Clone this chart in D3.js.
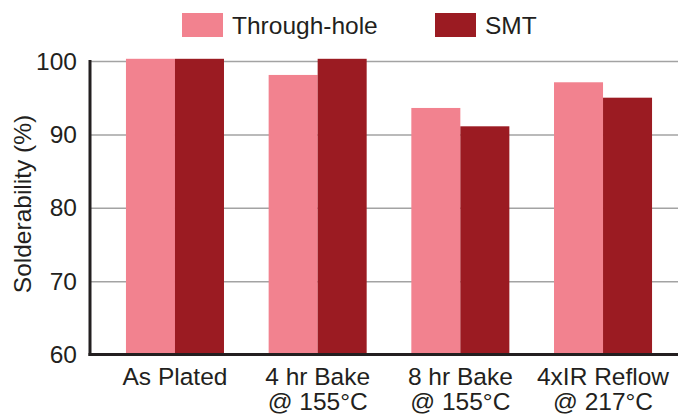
<!DOCTYPE html>
<html>
<head>
<meta charset="utf-8">
<script src="https://cdn.jsdelivr.net/npm/d3@7"></script>
<style>
  html, body { margin: 0; padding: 0; background: #fff; }
  svg { display: block; }
  text { font-family: "Liberation Sans", Arial, Helvetica, sans-serif; fill: #231f20; }
</style>
</head>
<body>
<svg id="chart" width="678" height="414"></svg>
<script>
const categories = ["As Plated", "4 hr Bake\n@ 155°C", "8 hr Bake\n@ 155°C", "4xIR Reflow\n@ 217°C"];
const seriesNames = ["Through-hole", "SMT"];
const throughHole = [100.3, 98.1, 93.6, 97.1];
const smt = [100.3, 100.3, 91.1, 95.0];
const yTicks = [60, 70, 80, 90, 100];
const yLabel = "Solderability (%)";

const colors = { "Through-hole": "#f2828f", "SMT": "#9b1b22" };
const seriesValues = { "Through-hole": throughHole, "SMT": smt };

const svg = d3.select("#chart");
const fs = "24.5px";

const y = d3.scaleLinear().domain([60, 100]).range([354.5, 61]);
const x = d3.scaleBand().domain(categories).range([90, 688]).paddingInner(0.313).paddingOuter(0.252);
const xs = d3.scaleBand().domain(seriesNames).range([0, x.bandwidth()]).padding(0);

// gridlines
const grid = svg.append("g").attr("transform", "translate(90,0)")
  .call(d3.axisLeft(y).tickValues(yTicks).tickSize(-588).tickFormat(""));
grid.select(".domain").remove();
grid.selectAll(".tick line").attr("stroke", "#a3a3a3").attr("stroke-width", 1.5);

// bars
const rows = categories.map((c, i) => ({ cat: c, vals: seriesNames.map(s => ({ s, v: seriesValues[s][i] })) }));
svg.append("g").selectAll("g").data(rows).join("g")
  .attr("transform", d => `translate(${x(d.cat)},0)`)
  .selectAll("rect").data(d => d.vals).join("rect")
  .attr("x", d => xs(d.s))
  .attr("width", xs.bandwidth())
  .attr("y", d => y(d.v))
  .attr("height", d => y(60) - y(d.v))
  .attr("fill", d => colors[d.s]);

// y axis labels
const yAxis = svg.append("g").attr("transform", "translate(90,0)")
  .call(d3.axisLeft(y).tickValues(yTicks).tickSize(0).tickPadding(13).tickFormat(d3.format("d")));
yAxis.select(".domain").remove();
yAxis.selectAll("text").attr("font-size", fs).attr("dy", "8").style("font-family", "'Liberation Sans', Arial, sans-serif").attr("fill", "#231f20");

// axis lines
svg.append("line").attr("x1", 90).attr("x2", 90).attr("y1", y(100) - 1).attr("y2", y(60) + 1.5)
  .attr("stroke", "#231f20").attr("stroke-width", 3);
svg.append("line").attr("x1", 88.5).attr("x2", 678).attr("y1", y(60)).attr("y2", y(60))
  .attr("stroke", "#231f20").attr("stroke-width", 3);

// x labels (each line its own text)
const lines = [];
categories.forEach(c => c.split("\n").forEach((t, i) => lines.push({ c, t, i })));
svg.append("g").selectAll("text").data(lines).join("text")
  .attr("text-anchor", "middle").attr("font-size", fs)
  .attr("x", d => x(d.c) + x.bandwidth() / 2)
  .attr("y", d => 384.5 + d.i * 25)
  .text(d => d.t);

// y title
svg.append("text").attr("transform", "translate(31,204) rotate(-90)")
  .attr("text-anchor", "middle").attr("font-size", fs).text(yLabel);

// legend
const legX = [182, 435];
const leg = svg.append("g").selectAll("g").data(seriesNames).join("g")
  .attr("transform", (d, i) => `translate(${legX[i]},13)`);
leg.append("rect").attr("width", 41).attr("height", 24).attr("fill", d => colors[d]);
leg.append("text").attr("x", 50).attr("y", 20.5).attr("font-size", fs).text(d => d);
</script>
</body>
</html>
